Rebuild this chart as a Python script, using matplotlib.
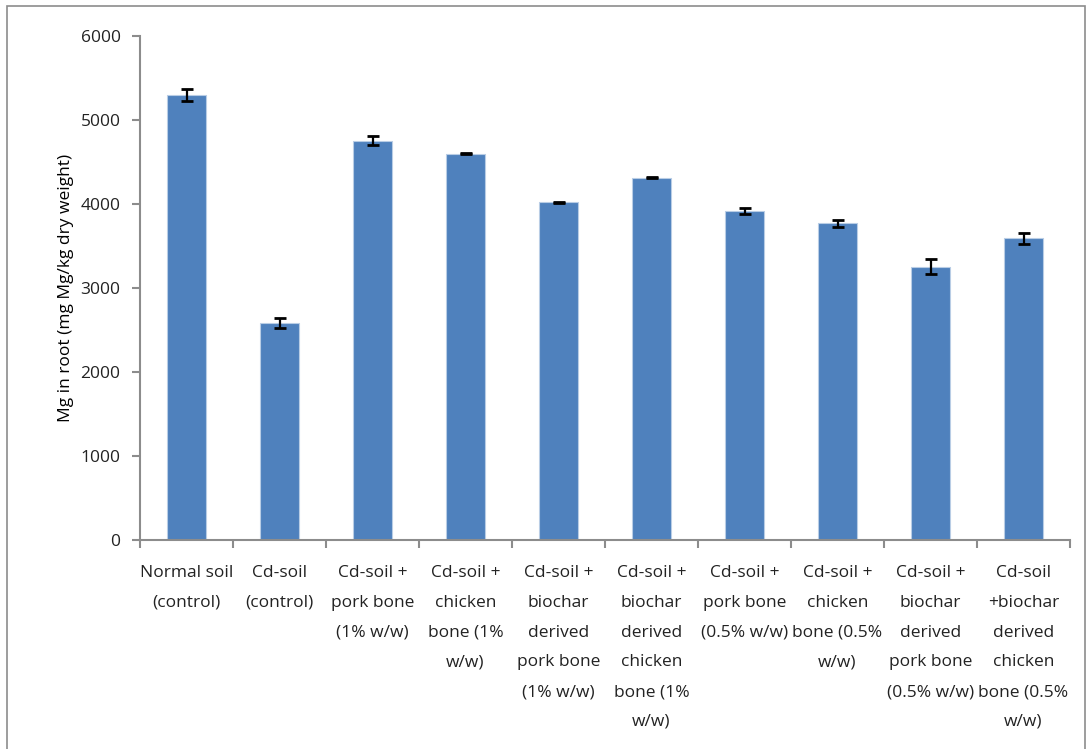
import matplotlib.pyplot as plt
from matplotlib.patches import Rectangle
import numpy as np

# ----------------------------
# Data
# ----------------------------
labels = [
    "Normal soil\n(control)",
    "Cd-soil\n(control)",
    "Cd-soil +\npork bone\n(1% w/w)",
    "Cd-soil +\nchicken\nbone (1%\nw/w)",
    "Cd-soil +\nbiochar\nderived\npork bone\n(1% w/w)",
    "Cd-soil +\nbiochar\nderived\nchicken\nbone (1%\nw/w)",
    "Cd-soil +\npork bone\n(0.5% w/w)",
    "Cd-soil +\nchicken\nbone (0.5%\nw/w)",
    "Cd-soil +\nbiochar\nderived\npork bone\n(0.5% w/w)",
    "Cd-soil\n+biochar\nderived\nchicken\nbone (0.5%\nw/w)",
]
mg_root = [5300, 2580, 4755, 4600, 4020, 4315, 3920, 3770, 3255, 3590]
mg_err = [70, 60, 50, 8, 8, 10, 38, 42, 93, 70]

plt.rcParams["font.family"] = ["Open Sans", "DejaVu Sans"]

fig = plt.figure(figsize=(10.92, 7.49), dpi=100)
ax = fig.add_axes([140 / 1092, 1 - 540 / 749, 930 / 1092, 504 / 749])

x = np.arange(len(mg_root))
ax.bar(x, mg_root, width=0.41, color="#4F81BD", edgecolor="#B9CDE5", linewidth=0.8)
ax.errorbar(x, mg_root, yerr=mg_err, fmt="none", ecolor="black",
            elinewidth=1.6, capsize=4.3, capthick=2)

ax.set_xlim(-0.5, len(mg_root) - 0.5)
ax.set_ylim(0, 6000)
ax.set_yticks(np.arange(0, 6001, 1000))

# labels centred on bars, tick marks between categories
ax.set_xticks(x)
ax.set_xticklabels(labels, fontsize=12.5, color="#222222", linespacing=2.15,
                   va="top")
ax.tick_params(axis="x", which="major", length=0, pad=18)
ax.set_xticks(np.arange(-0.5, len(mg_root), 1), minor=True)
ax.tick_params(axis="x", which="minor", length=6, width=1.5, color="#8C8C8C")
ax.tick_params(axis="y", length=6, width=1.5, color="#8C8C8C",
               labelsize=12.5, labelcolor="#222222", pad=8)

for s in ["top", "right"]:
    ax.spines[s].set_visible(False)
for s in ["left", "bottom"]:
    ax.spines[s].set_color("#8C8C8C")
    ax.spines[s].set_linewidth(1.5)

ax.set_ylabel("Mg in root (mg Mg/kg dry weight)", fontsize=12.5,
              color="black", labelpad=5)

# outer chart frame
fig.patches.append(Rectangle((7 / 1092, -0.05), 1078 / 1092, 1 - 6 / 749 + 0.05,
                             transform=fig.transFigure, fill=False,
                             edgecolor="#8C8C8C", linewidth=1.2))

fig.savefig("out.png", dpi=100)
